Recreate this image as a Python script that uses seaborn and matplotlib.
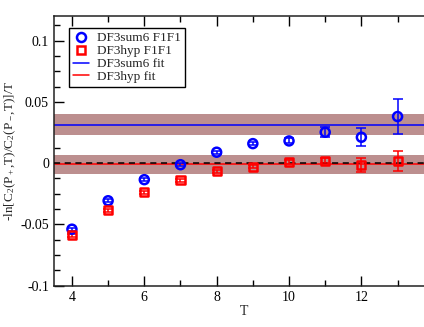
import seaborn as sns
import matplotlib.pyplot as plt
from matplotlib.lines import Line2D
from matplotlib.ticker import MultipleLocator, FixedLocator
import pandas as pd

# Data
T = [4, 5, 6, 7, 8, 9, 10, 11, 12, 13]
sum6_val = [-0.0539, -0.0307, -0.0135, -0.0013, 0.0089, 0.0159, 0.0181, 0.0252, 0.0211, 0.0380]
sum6_err = [0.0012, 0.0012, 0.0012, 0.0012, 0.0012, 0.0015, 0.0020, 0.0040, 0.0075, 0.0145]
hyp_val = [-0.0587, -0.0386, -0.0239, -0.0138, -0.0067, -0.0029, 0.0009, 0.0018, -0.0015, 0.0018]
hyp_err = [0.0012, 0.0012, 0.0012, 0.0012, 0.0012, 0.0012, 0.0015, 0.0020, 0.0056, 0.0079]

sum6_fit = 0.0314
sum6_fit_err = 0.0085
hyp_fit = -0.0010
hyp_fit_err = 0.0077

x_ticks = [4, 6, 8, 10, 12]
y_ticks = [-0.1, -0.05, 0, 0.05, 0.1]
y_tick_labels = ['-0.1', '-0.05', '0', '0.05', '0.1']

sns.set_style("ticks")
plt.rcParams['font.family'] = ['Liberation Serif', 'DejaVu Serif']
plt.rcParams['mathtext.fontset'] = 'custom'
plt.rcParams['mathtext.rm'] = 'Liberation Serif'
plt.rcParams['mathtext.it'] = 'Liberation Serif'

df = pd.DataFrame({'T': T, 'sum6': sum6_val, 'hyp': hyp_val})

fig = plt.figure(figsize=(4.24, 3.27), dpi=100)
ax = fig.add_axes([0.127, 0.1263, 0.896, 0.8247])

band = '#bc8f8f'
ax.axhspan(sum6_fit - sum6_fit_err, sum6_fit + sum6_fit_err, color=band, lw=0, zorder=1)
ax.axhspan(hyp_fit - hyp_fit_err, hyp_fit + hyp_fit_err, color=band, lw=0, zorder=1)
ax.axhline(sum6_fit, color='blue', lw=1.1, zorder=2)
ax.axhline(hyp_fit, color='red', lw=1.1, zorder=2)
ax.axhline(0, color='black', lw=1.1, ls=(0, (4, 3)), zorder=3)

# error bars
ax.errorbar(T, sum6_val, yerr=sum6_err, fmt='none', ecolor='blue', elinewidth=1.1, capsize=3.5, capthick=1.1, zorder=4)
ax.errorbar(T, hyp_val, yerr=hyp_err, fmt='none', ecolor='red', elinewidth=1.1, capsize=3.5, capthick=1.1, zorder=4)

# markers
sns.scatterplot(data=df, x='T', y='sum6', marker='o', s=42, facecolor='none', edgecolor='blue', linewidth=1.8, ax=ax, zorder=5)
sns.scatterplot(data=df, x='T', y='hyp', marker='s', s=34, facecolor='none', edgecolor='red', linewidth=1.8, ax=ax, zorder=5)

ax.set_xlim(3.5, 14)
ax.set_ylim(-0.1, 0.12)

ax.xaxis.set_major_locator(FixedLocator(x_ticks))
ax.xaxis.set_minor_locator(FixedLocator([5, 7, 9, 11, 13]))
ax.yaxis.set_minor_locator(MultipleLocator(0.0125))
ax.set_yticks(y_ticks)
ax.set_yticklabels(y_tick_labels)

ax.tick_params(which='both', direction='in', top=True, right=False, labelsize=10, colors='black')
ax.tick_params(which='major', length=7, width=1)
ax.tick_params(which='minor', length=4, width=1)
for s in ['left', 'bottom', 'top']:
    ax.spines[s].set_linewidth(1.1)
    ax.spines[s].set_color('#222222')
ax.spines['top'].set_visible(True)
ax.spines['right'].set_visible(False)

ax.set_xlabel('T', fontsize=10, labelpad=1)
ax.set_ylabel(r'-ln[C$_2$(P$_+$,T)/C$_2$(P$_-$,T)]/T', fontsize=9.5, labelpad=2)

handles = [
    Line2D([], [], ls='none', marker='o', markersize=6.5, markerfacecolor='none', markeredgecolor='blue', markeredgewidth=1.8),
    Line2D([], [], ls='none', marker='s', markersize=5.5, markerfacecolor='none', markeredgecolor='red', markeredgewidth=1.8),
    Line2D([], [], color='blue', lw=1.1),
    Line2D([], [], color='red', lw=1.1),
]
labels = ['DF3sum6 F1F1', 'DF3hyp F1F1', 'DF3sum6 fit', 'DF3hyp fit']
leg = ax.legend(handles, labels, loc='upper left', bbox_to_anchor=(0.04, 0.955), fontsize=9.5,
                frameon=True, fancybox=False, edgecolor='black', framealpha=1,
                handlelength=1.2, handletextpad=0.6, labelspacing=0.05, borderpad=0.3,
                borderaxespad=0)
leg.get_frame().set_linewidth(1.0)

fig.savefig('out.png', dpi=100)
